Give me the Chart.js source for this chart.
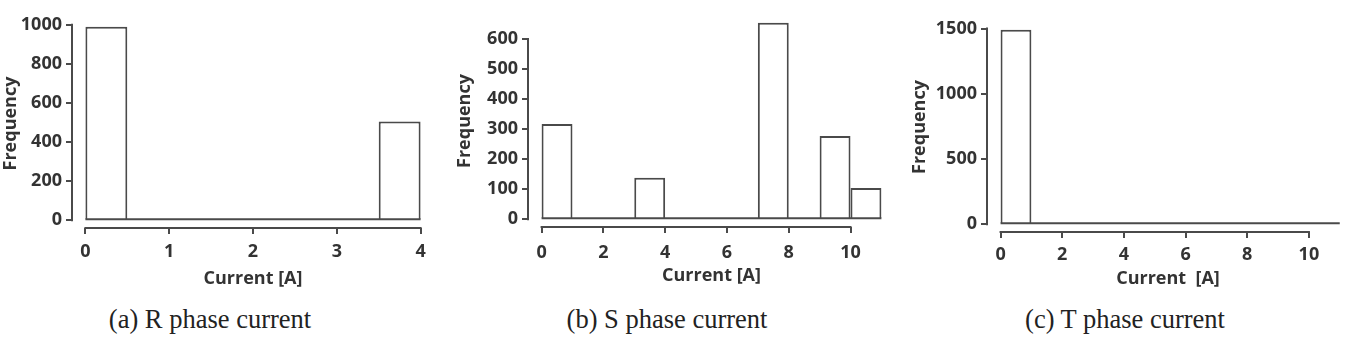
<!DOCTYPE html>
<html>
<head>
<meta charset="utf-8">
<script src="https://cdn.jsdelivr.net/npm/chart.js@4.4.1/dist/chart.umd.min.js"></script>
<style>
  html, body { margin: 0; padding: 0; background: #fff; }
  body { width: 1350px; height: 339px; position: relative; overflow: hidden; }
  .panel { position: absolute; top: 0; }
  .caption {
    position: absolute; top: 303px; transform: translateX(-50%);
    font-family: 'Liberation Serif', 'Times New Roman', serif;
    font-size: 26.5px; line-height: 32px; color: #222; white-space: nowrap;
  }
</style>
</head>
<body>
<div class="panel" style="left:0"><canvas id="chartR" width="440" height="290"></canvas></div>
<div class="panel" style="left:450px"><canvas id="chartS" width="450" height="290"></canvas></div>
<div class="panel" style="left:900px"><canvas id="chartT" width="450" height="290"></canvas></div>
<div class="caption" style="left:210px">(a) R phase current</div>
<div class="caption" style="left:667px">(b) S phase current</div>
<div class="caption" style="left:1125px">(c) T phase current</div>

<script>
// (a) R phase: bins of 0.5 A
const rBinStart = [0, 0.5, 1, 1.5, 2, 2.5, 3, 3.5];
const rBinWidth = 0.5;
const rCounts   = [990, 4, 0, 0, 0, 0, 0, 505];
const rXTicks   = [0, 1, 2, 3, 4];
const rYTicks   = [0, 200, 400, 600, 800, 1000];

// (b) S phase: bins of 1 A
const sBinStart = [0, 1, 2, 3, 4, 5, 6, 7, 8, 9, 10];
const sBinWidth = 1;
const sCounts   = [317, 0, 0, 138, 0, 0, 0, 654, 0, 277, 104];
const sXTicks   = [0, 2, 4, 6, 8, 10];
const sYTicks   = [0, 100, 200, 300, 400, 500, 600];

// (c) T phase: bins of 1 A
const tBinStart = [0, 1, 2, 3, 4, 5, 6, 7, 8, 9, 10];
const tBinWidth = 1;
const tCounts   = [1490, 0, 0, 5, 0, 0, 5, 0, 0, 0, 5];
const tXTicks   = [0, 2, 4, 6, 8, 10];
const tYTicks   = [0, 500, 1000, 1500];

const AXIS_COLOR = '#4a4a4a';
const BAR_COLOR = '#4a4a4a';
const TEXT_COLOR = '#333';
const LABEL_FONT = { family: "'Open Sans', sans-serif", size: 18, weight: 'bold' };

// R-style axes: line only between first and last tick, plus histogram baseline
const rAxisLines = {
  id: 'rAxisLines',
  afterDatasetsDraw(chart) {
    const { ctx, chartArea, scales: { x, y } } = chart;
    const xt = x.ticks, yt = y.ticks;
    const bins = chart.options.binInfo;
    ctx.save();
    ctx.strokeStyle = AXIS_COLOR;
    ctx.lineWidth = 2;
    ctx.lineCap = 'square';
    ctx.beginPath();
    // baseline under all bins
    const y0 = y.getPixelForValue(0) - 1;
    ctx.moveTo(x.getPixelForValue(bins.starts[0]) + 1, y0);
    ctx.lineTo(x.getPixelForValue(bins.starts[bins.starts.length - 1] + bins.width) - 1, y0);
    ctx.stroke();
    ctx.lineCap = 'butt';
    ctx.beginPath();
    // axes
    ctx.moveTo(x.getPixelForValue(xt[0].value) - 1, chartArea.bottom);
    ctx.lineTo(x.getPixelForValue(xt[xt.length - 1].value) + 1, chartArea.bottom);
    ctx.moveTo(chartArea.left, y.getPixelForValue(yt[0].value) + 1);
    ctx.lineTo(chartArea.left, y.getPixelForValue(yt[yt.length - 1].value) - 1);
    ctx.stroke();
    ctx.restore();
  }
};

function makeHist(id, cfg) {
  const points = cfg.starts.map((s, i) => ({ x: s + cfg.width / 2, y: cfg.counts[i] }));
  return new Chart(document.getElementById(id), {
    type: 'bar',
    data: {
      datasets: [{
        data: points,
        backgroundColor: '#fff',
        borderColor: BAR_COLOR,
        borderWidth: 2,
        borderSkipped: 'start',
        inflateAmount: 0,
        barPercentage: 1,
        categoryPercentage: 1
      }]
    },
    options: {
      responsive: false,
      animation: false,
      binInfo: { starts: cfg.starts, width: cfg.width },
      layout: { padding: { top: cfg.padTop, right: cfg.padRight, left: 0, bottom: 0 } },
      plugins: { legend: { display: false }, tooltip: { enabled: false } },
      scales: {
        x: {
          type: 'linear',
          offset: false,
          bounds: 'data',
          min: cfg.xRange[0],
          max: cfg.xRange[1],
          afterBuildTicks: s => { s.ticks = cfg.xTicks.map(v => ({ value: v })); },
          afterFit: s => { s.height = cfg.xAxisHeight; },
          border: { display: false },
          grid: { offset: false, drawOnChartArea: false, drawTicks: true, tickLength: 6, color: AXIS_COLOR, lineWidth: 2 },
          ticks: { padding: cfg.xTickPad, maxRotation: 0, autoSkip: false, color: TEXT_COLOR, font: LABEL_FONT, callback: v => String(v) },
          title: { display: true, text: cfg.xTitle, color: TEXT_COLOR, font: LABEL_FONT, padding: { top: 0, bottom: cfg.xTitlePad } }
        },
        y: {
          bounds: 'data',
          min: cfg.yRange[0],
          max: cfg.yRange[1],
          afterBuildTicks: s => { s.ticks = cfg.yTicks.map(v => ({ value: v })); },
          afterFit: s => { s.width = cfg.yAxisWidth; },
          border: { display: false },
          grid: { offset: false, drawOnChartArea: false, drawTicks: true, tickLength: 6, color: AXIS_COLOR, lineWidth: 2 },
          ticks: { padding: 4, color: TEXT_COLOR, font: LABEL_FONT, callback: v => String(v) },
          title: { display: true, text: 'Frequency', color: TEXT_COLOR, font: LABEL_FONT, padding: { top: cfg.yTitlePad, bottom: 0 } }
        }
      }
    },
    plugins: [rAxisLines]
  });
}

makeHist('chartR', {
  starts: rBinStart, width: rBinWidth, counts: rCounts, xTicks: rXTicks, yTicks: rYTicks,
  xRange: [-0.16, 4.16], yRange: [-40, 1030],
  padTop: 19, padRight: 6, yAxisWidth: 72, xAxisHeight: 62,
  xTickPad: 7, xTitlePad: 0, yTitlePad: 0, xTitle: 'Current [A]'
});

makeHist('chartS', {
  starts: sBinStart, width: sBinWidth, counts: sCounts, xTicks: sXTicks, yTicks: sYTicks,
  xRange: [-0.44, 11.44], yRange: [-26, 680],
  padTop: 15, padRight: 5, yAxisWidth: 78, xAxisHeight: 63,
  xTickPad: 9, xTitlePad: 3, yTitlePad: 4, xTitle: 'Current [A]'
});

makeHist('chartT', {
  starts: tBinStart, width: tBinWidth, counts: tCounts, xTicks: tXTicks, yTicks: tYTicks,
  xRange: [-0.44, 11.3], yRange: [-60, 1550],
  padTop: 22, padRight: 1, yAxisWidth: 87, xAxisHeight: 58,
  xTickPad: 6, xTitlePad: 0, yTitlePad: 9, xTitle: 'Current  [A]'
});
</script>
</body>
</html>
